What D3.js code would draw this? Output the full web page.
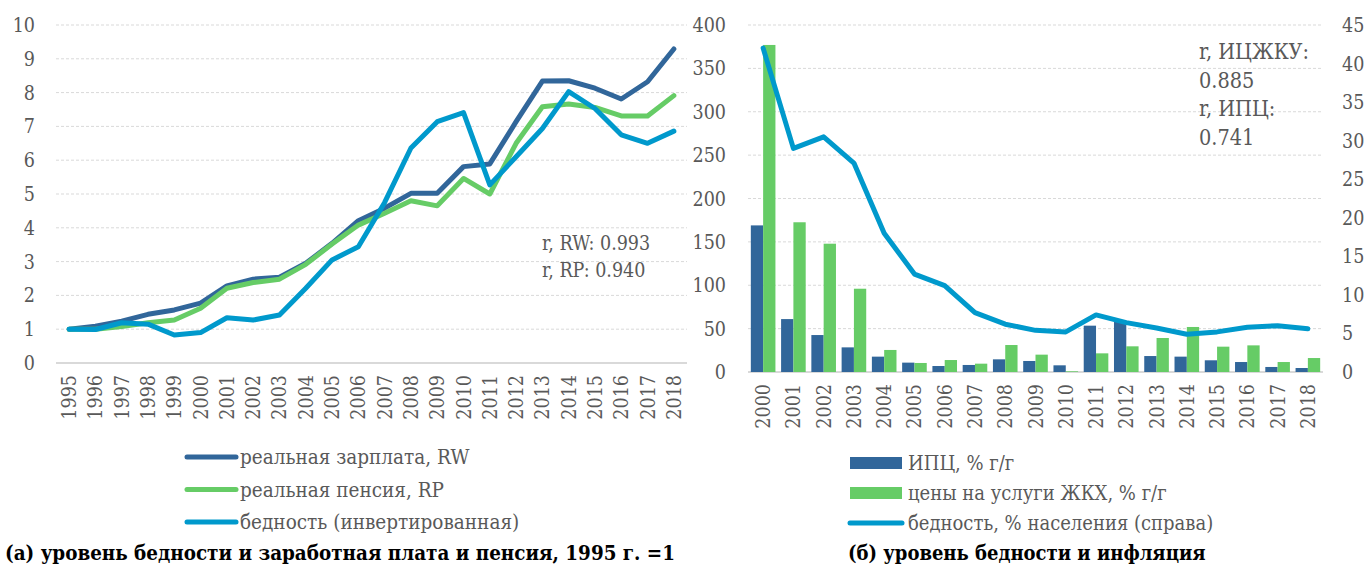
<!DOCTYPE html>
<html>
<head>
<meta charset="utf-8">
<script src="https://cdn.jsdelivr.net/npm/d3@7"></script>
<style>
  body { margin: 0; background: #fff; }
  svg text { font-stretch: condensed; }
</style>
</head>
<body>
<svg id="chart" width="1370" height="566" font-family="'DejaVu Serif Condensed', 'DejaVu Serif'"></svg>
<script>
// panel (a): 1995 = 1
const yearsA = d3.range(1995, 2019).map(String);
const realWage = [1.0, 1.09, 1.24, 1.44, 1.57, 1.77, 2.28, 2.48, 2.54, 2.95, 3.54, 4.21, 4.58, 5.02, 5.02, 5.81, 5.89, 7.14, 8.34, 8.35, 8.13, 7.81, 8.32, 9.29];
const realPension = [1.0, 1.0, 1.08, 1.19, 1.27, 1.62, 2.21, 2.38, 2.48, 2.92, 3.52, 4.08, 4.43, 4.8, 4.65, 5.46, 5.0, 6.5, 7.58, 7.66, 7.56, 7.31, 7.31, 7.91];
const povertyInv = [1.0, 0.99, 1.19, 1.15, 0.83, 0.9, 1.34, 1.27, 1.42, 2.21, 3.05, 3.44, 4.75, 6.36, 7.14, 7.41, 5.27, 6.1, 6.94, 8.03, 7.53, 6.75, 6.5, 6.86];
const ticksA = d3.range(0, 11);

// panel (б)
const yearsB = d3.range(2000, 2019).map(String);
const cpi = [169, 61, 42.6, 28.4, 17.7, 10.8, 6.9, 8.1, 14.6, 12.7, 7.7, 53.4, 58, 18.4, 17.7, 13.5, 11.5, 5.8, 4.6];
const housing = [377, 172.6, 147.9, 96, 25.4, 10.4, 13.8, 9.6, 31.1, 20, 0.8, 21.5, 29.6, 39.2, 51.9, 29.2, 30.7, 11.5, 16.1];
const poverty = [42.0, 29.0, 30.5, 27.1, 18.0, 12.7, 11.2, 7.7, 6.2, 5.4, 5.2, 7.4, 6.4, 5.7, 4.9, 5.2, 5.8, 6.0, 5.6];
const ticksBL = d3.range(0, 401, 50);
const ticksBR = d3.range(0, 46, 5);

const C_DARK = '#31669a', C_GREEN = '#66cc66', C_CYAN = '#0099cc';
const GRID = '#d9d9d9', TXT = '#595959';

const svg = d3.select('#chart');

function gridAndAxis(g, y, ticks, x0, x1) {
  g.selectAll('line.grid').data(ticks.slice(1)).enter().append('line')
    .attr('x1', x0).attr('x2', x1)
    .attr('y1', d => y(d)).attr('y2', d => y(d))
    .attr('stroke', GRID).attr('stroke-width', 1).attr('stroke-dasharray', '3,2');
  g.append('line').attr('x1', x0).attr('x2', x1)
    .attr('y1', y(0)).attr('y2', y(0))
    .attr('stroke', GRID).attr('stroke-width', 2);
}

function xLabels(g, x, cats, top) {
  g.selectAll('text.xl').data(cats).enter().append('text')
    .attr('transform', d => `translate(${x(d) + x.bandwidth() / 2 + 7},${top}) rotate(-90)`)
    .attr('text-anchor', 'end')
    .attr('fill', TXT).attr('font-size', 19.5)
    .text(d => d);
}

// ---------- panel (a)
const xA = d3.scaleBand().domain(yearsA).range([56, 687]);
const yA = d3.scaleLinear().domain([0, 10]).range([363, 25]);
const gA = svg.append('g');
gridAndAxis(gA, yA, ticksA, 56, 687);

gA.selectAll('text.yl').data(ticksA).enter().append('text')
  .attr('x', 35).attr('y', d => yA(d) + 7)
  .attr('text-anchor', 'end').attr('fill', TXT).attr('font-size', 19.5)
  .text(d => d);
xLabels(gA, xA, yearsA, 375);

const lineA = vals => d3.line()
  .x((d, i) => xA(yearsA[i]) + xA.bandwidth() / 2)
  .y(d => yA(d))(vals);

[[realWage, C_DARK], [realPension, C_GREEN], [povertyInv, C_CYAN]].forEach(([v, c]) => {
  gA.append('path').attr('d', lineA(v)).attr('fill', 'none')
    .attr('stroke', c).attr('stroke-width', 5)
    .attr('stroke-linejoin', 'round').attr('stroke-linecap', 'round');
});

gA.append('text').attr('x', 542).attr('y', 250).attr('fill', TXT).attr('font-size', 19.5).text('r, RW: 0.993');
gA.append('text').attr('x', 542).attr('y', 277).attr('fill', TXT).attr('font-size', 19.5).text('r, RP: 0.940');

const legA = [['реальная зарплата, RW', C_DARK], ['реальная пенсия, RP', C_GREEN], ['бедность (инвертированная)', C_CYAN]];
legA.forEach(([t, c], i) => {
  const yy = 457 + i * 32.5;
  gA.append('line').attr('x1', 187).attr('x2', 236).attr('y1', yy).attr('y2', yy)
    .attr('stroke', c).attr('stroke-width', 5).attr('stroke-linecap', 'round');
  gA.append('text').attr('x', 240).attr('y', yy + 7).attr('fill', TXT).attr('font-size', 20.5).text(t);
});
gA.append('text').attr('x', 5).attr('y', 560).attr('fill', '#000').attr('font-size', 20.4)
  .attr('font-weight', 'bold').text('(а) уровень бедности и заработная плата и пенсия, 1995 г. =1');

// ---------- panel (б)
const xB = d3.scaleBand().domain(yearsB).range([748, 1323]);
const xSub = d3.scaleBand().domain(['cpi', 'housing']).range([0, xB.bandwidth()]).paddingOuter(0.23);
const yBL = d3.scaleLinear().domain([0, 400]).range([372, 25]);
const yBR = d3.scaleLinear().domain([0, 45]).range([372, 25]);
const gB = svg.append('g');
gridAndAxis(gB, yBL, ticksBL, 748, 1323);

gB.selectAll('text.yl').data(ticksBL).enter().append('text')
  .attr('x', 726).attr('y', d => yBL(d) + 7)
  .attr('text-anchor', 'end').attr('fill', TXT).attr('font-size', 19.5)
  .text(d => d);
gB.selectAll('text.yr').data(ticksBR).enter().append('text')
  .attr('x', 1342).attr('y', d => yBR(d) + 7)
  .attr('fill', TXT).attr('font-size', 19.5)
  .text(d => d);
xLabels(gB, xB, yearsB, 384);

[[cpi, 'cpi', C_DARK], [housing, 'housing', C_GREEN]].forEach(([v, k, c]) => {
  gB.selectAll('rect.' + k).data(v).enter().append('rect')
    .attr('x', (d, i) => xB(yearsB[i]) + xSub(k))
    .attr('width', xSub.bandwidth())
    .attr('y', d => yBL(d))
    .attr('height', d => yBL(0) - yBL(d))
    .attr('fill', c);
});

gB.append('path')
  .attr('d', d3.line().x((d, i) => xB(yearsB[i]) + xB.bandwidth() / 2).y(d => yBR(d))(poverty))
  .attr('fill', 'none').attr('stroke', C_CYAN).attr('stroke-width', 5)
  .attr('stroke-linejoin', 'round').attr('stroke-linecap', 'round');

['r, ИЦЖКУ:', '0.885', 'r, ИПЦ:', '0.741'].forEach((t, i) => {
  gB.append('text').attr('x', 1199).attr('y', 59 + i * 28.5).attr('fill', TXT).attr('font-size', 21.5).text(t);
});

const legB = [['ИПЦ, % г/г', C_DARK, 'rect'], ['цены на услуги ЖКХ, % г/г', C_GREEN, 'rect'], ['бедность, % населения (справа)', C_CYAN, 'line']];
legB.forEach(([t, c, kind], i) => {
  const yy = 463 + i * 30;
  if (kind === 'rect') {
    gB.append('rect').attr('x', 850).attr('y', yy - 6).attr('width', 52).attr('height', 12).attr('fill', c);
  } else {
    gB.append('line').attr('x1', 850).attr('x2', 902).attr('y1', yy).attr('y2', yy)
      .attr('stroke', c).attr('stroke-width', 5).attr('stroke-linecap', 'round');
  }
  gB.append('text').attr('x', 908).attr('y', yy + 7).attr('fill', TXT).attr('font-size', 20).text(t);
});
gB.append('text').attr('x', 848).attr('y', 560).attr('fill', '#000').attr('font-size', 20)
  .attr('font-weight', 'bold').text('(б) уровень бедности и инфляция');
</script>
</body>
</html>
